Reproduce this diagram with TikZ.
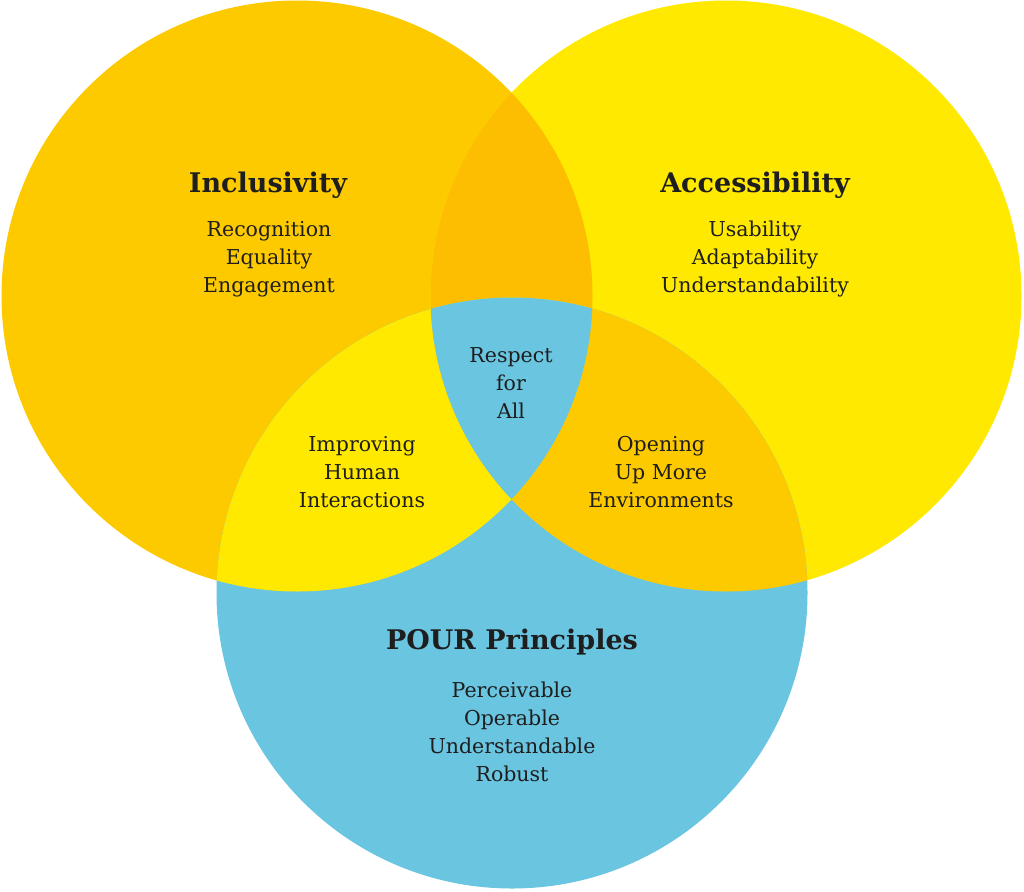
\documentclass[tikz,border=0pt]{standalone}
\usepackage{fontspec}
\setmainfont{DejaVu Serif}
\definecolor{incl}{HTML}{FDCA00}
\definecolor{both}{HTML}{FDBD00}
\definecolor{acce}{HTML}{FFE900}
\definecolor{pour}{HTML}{6AC5E1}
\definecolor{ink}{HTML}{1E1E1E}
\tikzset{
  title/.style={text=ink, font=\fontsize{27}{32}\selectfont\bfseries},
  items/.style={text=ink, align=center, font=\fontsize{20.5}{28}\selectfont},
}
\begin{document}
\begin{tikzpicture}[x=1pt, y=-1pt]
  \useasboundingbox (0, 0) rectangle (1024, 891);
  \coordinate (cl) at (297, 296);
  \coordinate (cr) at (726, 296);
  \coordinate (cb) at (512, 593);
  \fill[incl] (cl) circle[radius=295.5];
  \fill[acce] (cr) circle[radius=295.5];
  \fill[pour] (cb) circle[radius=295.5];
  % overlaps
  \begin{scope}
    \clip (cl) circle[radius=295.5];
    \fill[both] (cr) circle[radius=295.5];
    \fill[acce] (cb) circle[radius=295.5];
  \end{scope}
  \begin{scope}
    \clip (cr) circle[radius=295.5];
    \fill[incl] (cb) circle[radius=295.5];
    \clip (cl) circle[radius=295.5];
    \fill[pour] (cb) circle[radius=295.5];
  \end{scope}
  \node[title] at (268, 185) (inc) {Inclusivity};
  \node[items] at (269, 259) (incitems) {Recognition\\Equality\\Engagement};
  \node[title] at (755, 185) (acc) {Accessibility};
  \node[items] at (755, 259) (accitems) {Usability\\Adaptability\\Understandability};
  \node[items] at (511, 383) (all) {Respect\\for\\All};
  \node[items] at (362, 472) (human) {Improving\\Human\\Interactions};
  \node[items] at (661, 472) (env) {Opening\\Up More\\Environments};
  \node[title] at (512, 642) (pou) {POUR Principles};
  \node[items] at (512, 732) (pouitems) {Perceivable\\Operable\\Understandable\\Robust};
\end{tikzpicture}
\end{document}
